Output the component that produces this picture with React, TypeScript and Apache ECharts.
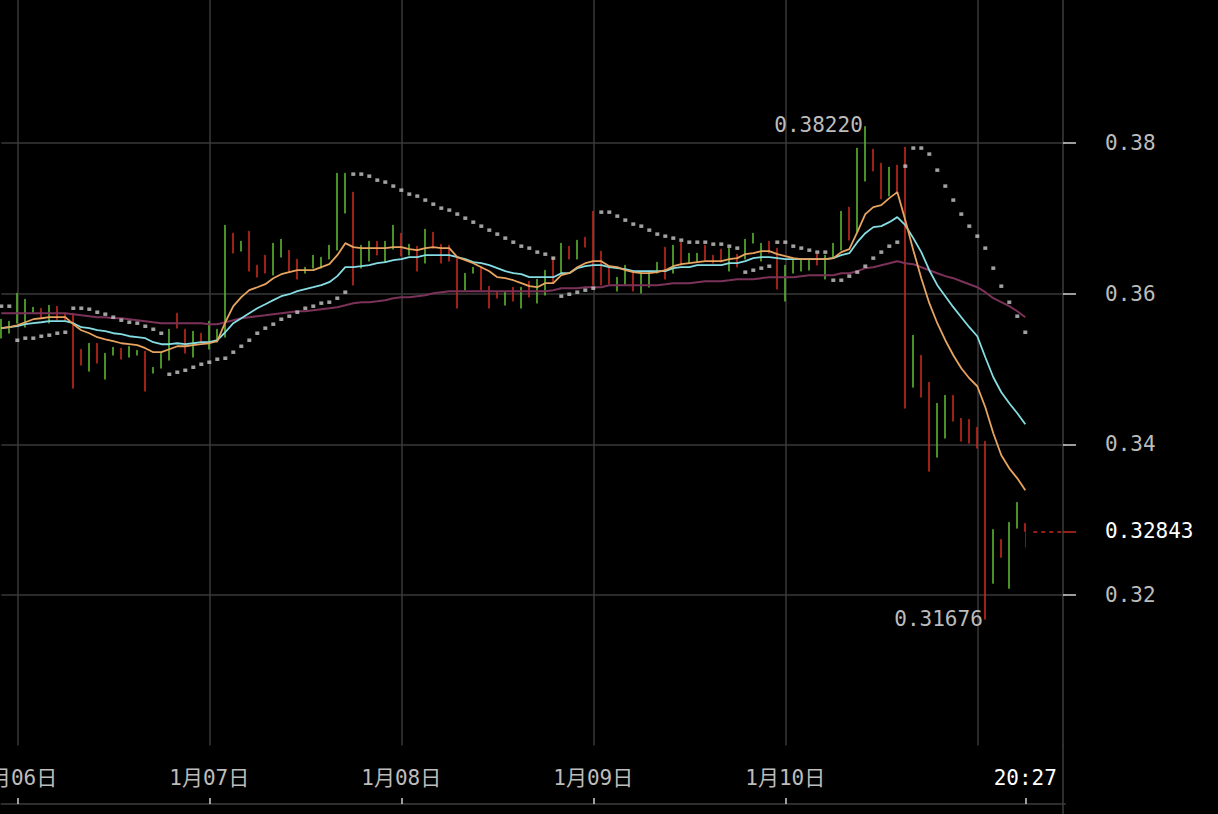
import React, { useEffect, useRef } from 'react';
import * as echarts from 'echarts';

// [open, close, low, high] per hourly candle
const candles = [
  [0.35409, 0.35661, 0.35409, 0.35661], [0.35475, 0.35635, 0.35475, 0.35635], [0.35608, 0.36007, 0.35608, 0.36007],
  [0.35555, 0.35927, 0.35555, 0.35927], [0.35754, 0.35821, 0.35754, 0.35821], [0.35807, 0.35674, 0.35674, 0.35807],
  [0.35608, 0.35847, 0.35608, 0.35847], [0.35834, 0.35648, 0.35648, 0.35834], [0.35741, 0.35648, 0.35648, 0.35741],
  [0.35741, 0.34744, 0.34744, 0.35741], [0.35262, 0.35050, 0.35050, 0.35262], [0.34970, 0.35342, 0.34970, 0.35342],
  [0.35342, 0.35076, 0.35076, 0.35342], [0.34864, 0.35209, 0.34864, 0.35209], [0.35183, 0.35289, 0.35183, 0.35289],
  [0.35276, 0.35130, 0.35130, 0.35276], [0.35156, 0.35302, 0.35156, 0.35302], [0.35183, 0.35249, 0.35183, 0.35249],
  [0.35236, 0.34704, 0.34704, 0.35236], [0.34944, 0.35023, 0.34944, 0.35023], [0.35010, 0.35209, 0.35010, 0.35209],
  [0.35116, 0.35528, 0.35116, 0.35528], [0.35741, 0.35542, 0.35542, 0.35741], [0.35528, 0.35209, 0.35209, 0.35528],
  [0.35156, 0.35502, 0.35156, 0.35502], [0.35475, 0.35342, 0.35342, 0.35475], [0.35262, 0.35635, 0.35262, 0.35635],
  [0.35356, 0.35528, 0.35356, 0.35528], [0.35422, 0.36910, 0.35422, 0.36910], [0.36804, 0.36538, 0.36538, 0.36804],
  [0.36565, 0.36698, 0.36565, 0.36698], [0.36831, 0.36299, 0.36299, 0.36831], [0.36379, 0.36219, 0.36219, 0.36379],
  [0.36512, 0.36272, 0.36272, 0.36512], [0.36246, 0.36671, 0.36246, 0.36671], [0.36485, 0.36724, 0.36485, 0.36724],
  [0.36578, 0.36286, 0.36286, 0.36578], [0.36459, 0.36193, 0.36193, 0.36459], [0.36272, 0.36352, 0.36272, 0.36352],
  [0.36339, 0.36512, 0.36339, 0.36512], [0.36339, 0.36485, 0.36339, 0.36485], [0.36459, 0.36645, 0.36459, 0.36645],
  [0.36578, 0.37601, 0.36578, 0.37601], [0.37070, 0.37601, 0.37070, 0.37601], [0.37349, 0.36113, 0.36113, 0.37349],
  [0.36339, 0.36645, 0.36339, 0.36645], [0.36432, 0.36698, 0.36432, 0.36698], [0.36698, 0.36512, 0.36512, 0.36698],
  [0.36419, 0.36698, 0.36419, 0.36698], [0.36591, 0.36910, 0.36591, 0.36910], [0.36804, 0.36498, 0.36498, 0.36804],
  [0.36512, 0.36658, 0.36512, 0.36658], [0.36631, 0.36299, 0.36299, 0.36631], [0.36405, 0.36857, 0.36405, 0.36857],
  [0.36817, 0.36605, 0.36605, 0.36817], [0.36658, 0.36405, 0.36405, 0.36658], [0.36645, 0.36432, 0.36432, 0.36645],
  [0.36472, 0.35807, 0.35807, 0.36472], [0.36047, 0.36272, 0.36047, 0.36272], [0.36272, 0.36352, 0.36272, 0.36352],
  [0.36366, 0.36047, 0.36047, 0.36366], [0.36100, 0.35807, 0.35807, 0.36100], [0.36020, 0.35940, 0.35940, 0.36020],
  [0.35847, 0.36020, 0.35847, 0.36020], [0.36086, 0.35900, 0.35900, 0.36086], [0.35807, 0.36086, 0.35807, 0.36086],
  [0.36166, 0.35954, 0.35954, 0.36166], [0.35874, 0.36193, 0.35874, 0.36193], [0.35980, 0.36312, 0.35980, 0.36312],
  [0.36485, 0.36140, 0.36140, 0.36485], [0.36272, 0.36671, 0.36272, 0.36671], [0.36631, 0.36459, 0.36459, 0.36631],
  [0.36459, 0.36711, 0.36459, 0.36711], [0.36751, 0.36618, 0.36618, 0.36751], [0.37096, 0.36113, 0.36113, 0.37096],
  [0.36565, 0.36113, 0.36113, 0.36565], [0.36352, 0.36126, 0.36126, 0.36352], [0.36033, 0.36219, 0.36033, 0.36219],
  [0.36126, 0.36379, 0.36126, 0.36379], [0.36312, 0.36033, 0.36033, 0.36312], [0.36007, 0.36286, 0.36007, 0.36286],
  [0.36086, 0.36299, 0.36086, 0.36299], [0.36272, 0.36419, 0.36272, 0.36419], [0.36618, 0.36193, 0.36193, 0.36618],
  [0.36272, 0.36645, 0.36272, 0.36645], [0.36684, 0.36379, 0.36379, 0.36684], [0.36405, 0.36538, 0.36405, 0.36538],
  [0.36419, 0.36538, 0.36419, 0.36538], [0.36645, 0.36445, 0.36445, 0.36645], [0.36512, 0.36405, 0.36405, 0.36512],
  [0.36591, 0.36419, 0.36419, 0.36591], [0.36299, 0.36605, 0.36299, 0.36605], [0.36525, 0.36352, 0.36352, 0.36525],
  [0.36459, 0.36724, 0.36459, 0.36724], [0.36671, 0.36804, 0.36671, 0.36804], [0.36432, 0.36671, 0.36432, 0.36671],
  [0.36698, 0.36538, 0.36538, 0.36698], [0.36605, 0.36060, 0.36060, 0.36605], [0.35900, 0.36379, 0.35900, 0.36379],
  [0.36272, 0.36445, 0.36272, 0.36445], [0.36299, 0.36459, 0.36299, 0.36459], [0.36312, 0.36459, 0.36312, 0.36459],
  [0.36525, 0.36379, 0.36379, 0.36525], [0.36193, 0.36512, 0.36193, 0.36512], [0.36472, 0.36671, 0.36472, 0.36671],
  [0.36578, 0.37096, 0.36578, 0.37096], [0.37150, 0.36711, 0.36711, 0.37150], [0.36817, 0.37934, 0.36817, 0.37934],
  [0.37495, 0.38220, 0.37495, 0.38220], [0.37920, 0.37628, 0.37628, 0.37920], [0.37734, 0.37256, 0.37256, 0.37734],
  [0.37296, 0.37681, 0.37296, 0.37681], [0.37708, 0.37349, 0.37349, 0.37708], [0.37947, 0.34478, 0.34478, 0.37947],
  [0.34757, 0.35449, 0.34757, 0.35449], [0.35183, 0.34625, 0.34625, 0.35183], [0.34824, 0.33641, 0.33641, 0.34824],
  [0.33827, 0.34545, 0.33827, 0.34545], [0.34080, 0.34651, 0.34080, 0.34651], [0.34651, 0.34306, 0.34306, 0.34651],
  [0.34346, 0.34040, 0.34040, 0.34346], [0.34332, 0.34013, 0.34013, 0.34332], [0.34226, 0.33947, 0.33947, 0.34226],
  [0.34040, 0.31676, 0.31676, 0.34040], [0.32153, 0.32870, 0.32153, 0.32870], [0.32738, 0.32498, 0.32498, 0.32738],
  [0.32086, 0.32964, 0.32086, 0.32964], [0.32884, 0.33229, 0.32884, 0.33229], [0.32950, 0.32843, 0.32631, 0.32950],
];

// orange short moving average
const maFast = [
  0.35542, 0.35555, 0.35581, 0.35621, 0.35661, 0.35674, 0.35688, 0.35688, 0.35688, 0.35595,
  0.35515, 0.35475, 0.35422, 0.35395, 0.35369, 0.35342, 0.35329, 0.35316, 0.35276, 0.35223,
  0.35223, 0.35262, 0.35302, 0.35302, 0.35316, 0.35329, 0.35342, 0.35369, 0.35621, 0.35834,
  0.35954, 0.36047, 0.36086, 0.36126, 0.36206, 0.36259, 0.36286, 0.36312, 0.36312, 0.36312,
  0.36352, 0.36392, 0.36512, 0.36671, 0.36618, 0.36605, 0.36605, 0.36605, 0.36605, 0.36618,
  0.36618, 0.36591, 0.36578, 0.36605, 0.36618, 0.36605, 0.36605, 0.36485, 0.36445, 0.36405,
  0.36352, 0.36299, 0.36219, 0.36206, 0.36179, 0.36140, 0.36100, 0.36086, 0.36140, 0.36140,
  0.36246, 0.36272, 0.36352, 0.36405, 0.36432, 0.36432, 0.36365, 0.36352, 0.36312, 0.36286,
  0.36272, 0.36272, 0.36286, 0.36312, 0.36365, 0.36392, 0.36405, 0.36419, 0.36432, 0.36432,
  0.36432, 0.36458, 0.36472, 0.36525, 0.36538, 0.36565, 0.36565, 0.36525, 0.36498, 0.36472,
  0.36458, 0.36458, 0.36458, 0.36458, 0.36472, 0.36552, 0.36591, 0.36817, 0.37057, 0.37150,
  0.37176, 0.37269, 0.37349, 0.36977, 0.36578, 0.36206, 0.35874, 0.35608, 0.35382, 0.35183,
  0.35010, 0.34877, 0.34771, 0.34492, 0.34146, 0.33854, 0.33681, 0.33548, 0.33389,
];

// cyan medium moving average
const maMid = [
  0.35542, 0.35555, 0.35568, 0.35595, 0.35608, 0.35621, 0.35635, 0.35635, 0.35635, 0.35608,
  0.35555, 0.35542, 0.35515, 0.35502, 0.35475, 0.35462, 0.35435, 0.35422, 0.35409, 0.35356,
  0.35329, 0.35329, 0.35342, 0.35329, 0.35342, 0.35356, 0.35356, 0.35382, 0.35488, 0.35608,
  0.35674, 0.35741, 0.35807, 0.35860, 0.35914, 0.35967, 0.35993, 0.36033, 0.36060, 0.36086,
  0.36113, 0.36153, 0.36233, 0.36352, 0.36352, 0.36365, 0.36379, 0.36405, 0.36419, 0.36445,
  0.36458, 0.36485, 0.36485, 0.36512, 0.36512, 0.36512, 0.36512, 0.36485, 0.36458, 0.36419,
  0.36405, 0.36379, 0.36339, 0.36299, 0.36272, 0.36259, 0.36219, 0.36219, 0.36219, 0.36219,
  0.36272, 0.36272, 0.36339, 0.36365, 0.36379, 0.36379, 0.36352, 0.36339, 0.36326, 0.36299,
  0.36299, 0.36299, 0.36299, 0.36299, 0.36339, 0.36352, 0.36352, 0.36379, 0.36379, 0.36379,
  0.36379, 0.36405, 0.36405, 0.36432, 0.36472, 0.36485, 0.36485, 0.36472, 0.36458, 0.36458,
  0.36458, 0.36458, 0.36458, 0.36458, 0.36472, 0.36512, 0.36538, 0.36684, 0.36804, 0.36884,
  0.36897, 0.36950, 0.37017, 0.36910, 0.36738, 0.36552, 0.36312, 0.36113, 0.35967, 0.35821,
  0.35688, 0.35555, 0.35435, 0.35156, 0.34890, 0.34691, 0.34545, 0.34412, 0.34266,
];

// purple long moving average
const maSlow = [
  0.35741, 0.35741, 0.35741, 0.35741, 0.35741, 0.35741, 0.35741, 0.35741, 0.35741, 0.35728,
  0.35714, 0.35701, 0.35688, 0.35688, 0.35674, 0.35674, 0.35661, 0.35648, 0.35635, 0.35621,
  0.35608, 0.35608, 0.35608, 0.35608, 0.35608, 0.35608, 0.35595, 0.35595, 0.35621, 0.35648,
  0.35674, 0.35688, 0.35701, 0.35714, 0.35728, 0.35741, 0.35754, 0.35767, 0.35767, 0.35781,
  0.35794, 0.35807, 0.35821, 0.35847, 0.35874, 0.35887, 0.35887, 0.35900, 0.35914, 0.35940,
  0.35954, 0.35954, 0.35967, 0.35980, 0.36007, 0.36020, 0.36033, 0.36033, 0.36033, 0.36033,
  0.36033, 0.36033, 0.36033, 0.36033, 0.36033, 0.36033, 0.36033, 0.36033, 0.36033, 0.36047,
  0.36073, 0.36073, 0.36073, 0.36086, 0.36086, 0.36086, 0.36113, 0.36113, 0.36113, 0.36113,
  0.36113, 0.36113, 0.36113, 0.36126, 0.36140, 0.36140, 0.36140, 0.36153, 0.36166, 0.36166,
  0.36166, 0.36179, 0.36193, 0.36193, 0.36193, 0.36206, 0.36219, 0.36219, 0.36219, 0.36219,
  0.36233, 0.36246, 0.36246, 0.36246, 0.36246, 0.36272, 0.36272, 0.36299, 0.36339, 0.36352,
  0.36379, 0.36405, 0.36432, 0.36405, 0.36392, 0.36352, 0.36312, 0.36272, 0.36233, 0.36206,
  0.36166, 0.36126, 0.36086, 0.36020, 0.35940, 0.35887, 0.35834, 0.35767, 0.35688,
];

// parabolic SAR dots
const sar = [
  0.35834, 0.35834, 0.35382, 0.35409, 0.35409, 0.35435, 0.35449, 0.35475, 0.35488, 0.35807,
  0.35807, 0.35794, 0.35754, 0.35728, 0.35688, 0.35648, 0.35621, 0.35608, 0.35568, 0.35528,
  0.35475, 0.34930, 0.34957, 0.34983, 0.35023, 0.35063, 0.35090, 0.35130, 0.35143, 0.35223,
  0.35302, 0.35382, 0.35475, 0.35542, 0.35595, 0.35661, 0.35701, 0.35754, 0.35807, 0.35834,
  0.35874, 0.35887, 0.35940, 0.36020, 0.37588, 0.37588, 0.37561, 0.37508, 0.37482, 0.37429,
  0.37375, 0.37322, 0.37296, 0.37243, 0.37189, 0.37136, 0.37110, 0.37057, 0.37003, 0.36950,
  0.36897, 0.36844, 0.36791, 0.36738, 0.36684, 0.36631, 0.36605, 0.36552, 0.36525, 0.36472,
  0.35967, 0.35993, 0.36020, 0.36047, 0.36073, 0.37083, 0.37083, 0.37030, 0.36977, 0.36924,
  0.36897, 0.36844, 0.36791, 0.36764, 0.36738, 0.36711, 0.36684, 0.36684, 0.36684, 0.36658,
  0.36658, 0.36631, 0.36605, 0.36286, 0.36312, 0.36339, 0.36365, 0.36684, 0.36684, 0.36631,
  0.36605, 0.36578, 0.36552, 0.36552, 0.36179, 0.36179, 0.36233, 0.36286, 0.36365, 0.36472,
  0.36552, 0.36631, 0.36684, 0.37694, 0.37934, 0.37934, 0.37854, 0.37641, 0.37429, 0.37243,
  0.37057, 0.36897, 0.36764, 0.36605, 0.36339, 0.36100, 0.35887, 0.35701, 0.35488,
];

// x tick labels by candle slot; slot 122 has a grid line but no label
const xTickLabels: Record<number, string> = {
  2: '1月06日',
  26: '1月07日',
  50: '1月08日',
  74: '1月09日',
  98: '1月10日',
  128: '20:27',
};
const dayLineSlots = [2, 26, 50, 74, 98, 122];
const yTickValues = [0.32, 0.34, 0.36, 0.38];
const slotCount = 134;

const MONO = "'DejaVu Sans Mono', 'Noto Sans CJK SC', monospace";
const UP = '#5cb531';
const DOWN = '#c62a1f';
const GRIDC = '#383838';
const LABELC = '#bcbcbc';

export default function App() {
  const ref = useRef<HTMLDivElement>(null);
  useEffect(() => {
    document.body.style.margin = '0';
    document.body.style.background = '#000';
    const chart = echarts.init(ref.current as HTMLDivElement, null, { renderer: 'svg' });

    const cats = Array.from({ length: slotCount }, (_, i) => String(i));
    let hiIdx = 0;
    let loIdx = 0;
    candles.forEach((c, i) => {
      if (c[3] > candles[hiIdx][3]) hiIdx = i;
      if (c[2] < candles[loIdx][2]) loIdx = i;
    });
    const lastIdx = candles.length - 1;
    const last = candles[lastIdx][1];

    chart.setOption({
      animation: false,
      backgroundColor: '#000',
      grid: {
        left: 1.3,
        right: 152.7,
        top: -7.5,
        bottom: 68.5,
        containLabel: false,
        outerBoundsMode: 'none',
      },
      xAxis: {
        type: 'category',
        data: cats,
        boundaryGap: false,
        offset: 58.5,
        axisLine: { show: true, lineStyle: { color: '#3c3c3c', width: 1.5 } },
        axisTick: {
          show: true,
          inside: true,
          length: 6,
          interval: (i: number) => i in xTickLabels,
          lineStyle: { color: '#d0d0d0', width: 1.5 },
        },
        axisLabel: {
          inside: true,
          margin: 16,
          interval: (i: number) => i in xTickLabels,
          formatter: (v: string) => {
            const idx = Number(v);
            const t = xTickLabels[idx] ?? '';
            return idx === lastIdx ? `{w|${t}}` : t;
          },
          color: LABELC,
          fontSize: 21,
          fontFamily: MONO,
          rich: { w: { color: '#ffffff', fontSize: 21, fontFamily: MONO } },
        },
        splitLine: {
          show: true,
          interval: (i: number) => dayLineSlots.includes(i),
          lineStyle: { color: GRIDC, width: 1.5 },
        },
      },
      yAxis: [
        {
          type: 'value',
          position: 'right',
          min: 0.3,
          max: 0.4,
          interval: 0.02,
          offset: -2.3,
          axisLine: { show: true, lineStyle: { color: '#3c3c3c', width: 1.5 } },
          axisTick: { show: true, length: 13, customValues: yTickValues, lineStyle: { color: '#d0d0d0', width: 1.5 } },
          axisLabel: {
            customValues: yTickValues,
            margin: 42,
            color: LABELC,
            fontSize: 21,
            fontFamily: MONO,
            formatter: (v: number) => v.toFixed(2),
          },
          splitLine: { show: true, lineStyle: { color: GRIDC, width: 1.5 } },
        },
        {
          type: 'value',
          position: 'right',
          min: 0.3,
          max: 0.4,
          offset: -2.3,
          axisLine: { show: false },
          splitLine: { show: false },
          axisTick: { show: true, length: 13, customValues: [last], lineStyle: { color: DOWN, width: 1.5 } },
          axisLabel: {
            customValues: [last],
            margin: 42,
            color: '#ffffff',
            fontSize: 21,
            fontFamily: MONO,
            formatter: (v: number) => v.toFixed(5),
          },
        },
      ],
      series: [
        {
          type: 'candlestick',
          data: candles,
          barWidth: 1.6,
          itemStyle: { color: UP, color0: DOWN, borderColor: UP, borderColor0: DOWN, borderWidth: 0.6 },
          markPoint: {
            symbol: 'circle',
            symbolSize: 1,
            itemStyle: { color: 'rgba(0,0,0,0)' },
            label: {
              show: true,
              position: 'left',
              distance: 2,
              color: LABELC,
              fontSize: 21,
              fontFamily: MONO,
              formatter: (p: any) => Number(p.value).toFixed(5),
            },
            data: [
              { coord: [cats[hiIdx], candles[hiIdx][3]], value: candles[hiIdx][3], label: { offset: [0, -2] } },
              { coord: [cats[loIdx], candles[loIdx][2]], value: candles[loIdx][2] },
            ],
          },
          markLine: {
            silent: true,
            symbol: ['none', 'none'],
            label: { show: false },
            lineStyle: { color: DOWN, type: [4, 4], width: 1.5 },
            data: [[{ coord: [cats[lastIdx + 1], last] }, { coord: [cats[slotCount - 1], last] }]],
          },
          z: 2,
        },
        {
          type: 'line',
          data: maSlow,
          showSymbol: false,
          symbol: 'none',
          lineStyle: { color: '#7b3258', width: 2 },
          z: 3,
        },
        {
          type: 'line',
          data: maMid,
          showSymbol: false,
          symbol: 'none',
          lineStyle: { color: '#85dde3', width: 1.8 },
          z: 4,
        },
        {
          type: 'line',
          data: maFast,
          showSymbol: false,
          symbol: 'none',
          lineStyle: { color: '#e6a460', width: 1.8 },
          z: 5,
        },
        {
          type: 'scatter',
          data: sar,
          symbol: 'rect',
          symbolSize: [4, 3.5],
          itemStyle: { color: '#c9c9c9' },
          z: 6,
        },
      ],
      graphic: [
        {
          type: 'line',
          shape: { x1: 1063, y1: 745, x2: 1063, y2: 814 },
          style: { stroke: '#3c3c3c', lineWidth: 1.5 },
          silent: true,
        },
      ],
    });
    return () => chart.dispose();
  }, []);
  return <div ref={ref} style={{ width: 1218, height: 814, background: '#000' }} />;
}
